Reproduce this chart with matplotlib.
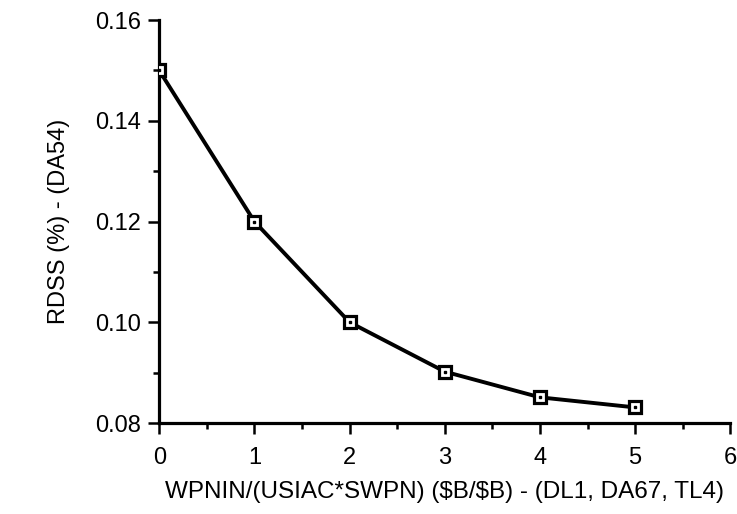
import matplotlib
matplotlib.use("Agg")
import matplotlib.pyplot as plt
from matplotlib.ticker import MultipleLocator, FormatStrFormatter

x_vals = [0, 1, 2, 3, 4, 5]
rdss = [0.150, 0.120, 0.100, 0.0902, 0.0851, 0.0831]
x_label = r"WPNIN/(USIAC*SWPN) (\$B/\$B) - (DL1, DA67, TL4)"
y_label = "RDSS (%) - (DA54)"

plt.rcParams['font.family'] = ['Liberation Sans', 'DejaVu Sans']

fig = plt.figure(figsize=(7.37, 5.14), dpi=100)
ax = fig.add_axes([0.216, 0.177, 0.775, 0.784])

ax.plot(x_vals, rdss, color='black', lw=2.8, marker='s', markersize=9,
        markerfacecolor='white', markeredgecolor='black', markeredgewidth=2.3, zorder=3)
ax.plot(x_vals, rdss, ls='none', marker='s', markersize=2, color='black', zorder=4)

ax.set_xlim(0, 6)
ax.set_ylim(0.08, 0.16)
ax.xaxis.set_major_locator(MultipleLocator(1))
ax.xaxis.set_minor_locator(MultipleLocator(0.5))
ax.yaxis.set_major_locator(MultipleLocator(0.02))
ax.yaxis.set_minor_locator(MultipleLocator(0.01))
ax.yaxis.set_major_formatter(FormatStrFormatter('%.2f'))

for s in ['top', 'right']:
    ax.spines[s].set_visible(False)
for s in ['left', 'bottom']:
    ax.spines[s].set_linewidth(2.3)

ax.tick_params(which='major', direction='out', length=8, width=1.8, labelsize=17, pad=5)
ax.tick_params(which='minor', direction='out', length=4, width=1.8)
ax.tick_params(axis='x', which='major', pad=9)

ax.set_xlabel(x_label, fontsize=17.5, labelpad=9)
ax.set_ylabel(y_label, fontsize=17, labelpad=18)

fig.savefig("out.png", dpi=100)
